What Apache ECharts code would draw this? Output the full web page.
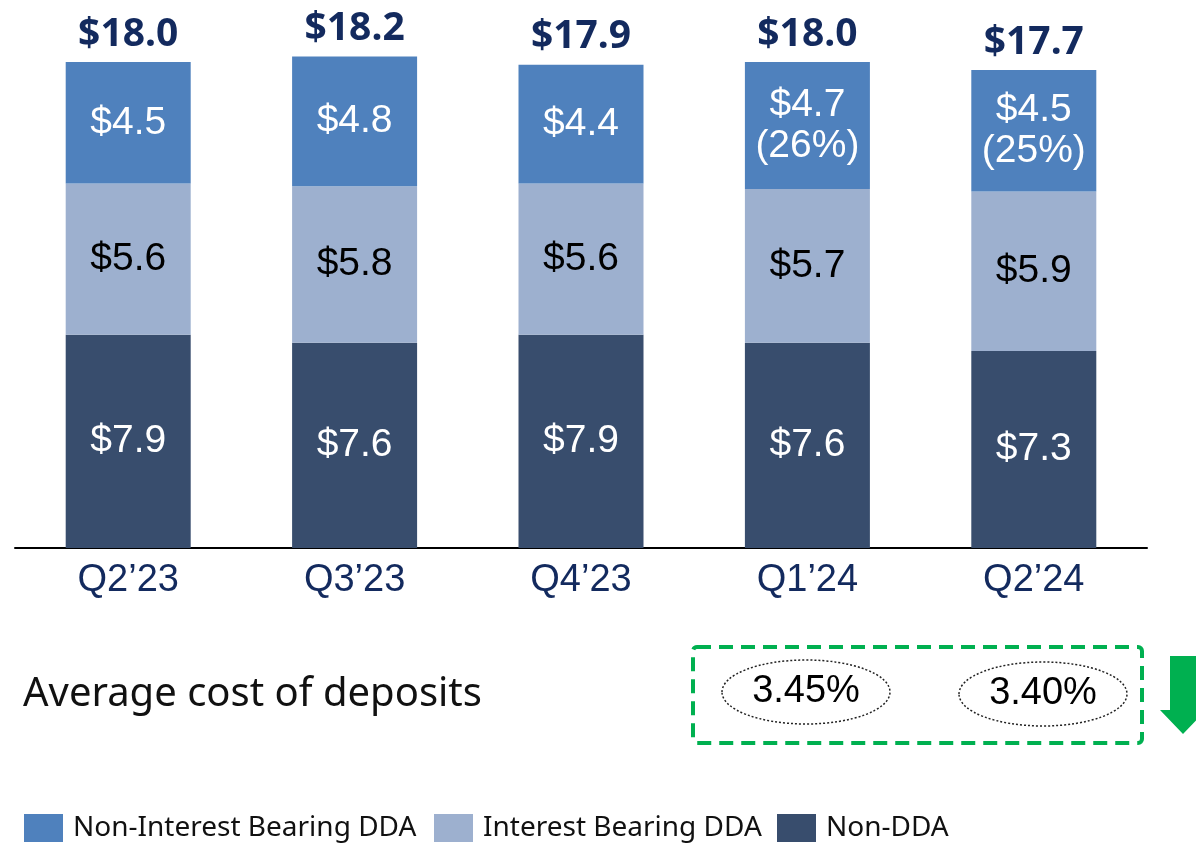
<!DOCTYPE html>
<html>
<head>
	<meta charset="utf-8">
	<title>Deposits</title>
	<script src="https://cdn.jsdelivr.net/npm/echarts@6/dist/echarts.min.js"></script>
	<style>
		body { margin: 0; background: #fff; }
	</style>
</head>
<body>
	<div id="main" style="width: 1196px; height: 844px"></div>
	<script type="text/javascript">
		var categories = ["Q2\u201923", "Q3\u201923", "Q4\u201923", "Q1\u201924", "Q2\u201924"];
		var nonDDA = [7.9, 7.6, 7.9, 7.6, 7.3];
		var interestDDA = [5.6, 5.8, 5.6, 5.7, 5.9];
		var nonInterestDDA = [4.5, 4.8, 4.4, 4.7, 4.5];
		var nonInterestShare = [null, null, null, 26, 25];
		var totals = [18.0, 18.2, 17.9, 18.0, 17.7];
		var costLabels = ["3.45%", "3.40%"];
		var legendNames = ['Non-Interest Bearing DDA', 'Interest Bearing DDA', 'Non-DDA'];

		var navy = '#132a5e';
		var colors = { 'Non-Interest Bearing DDA': '#4f81bd', 'Interest Bearing DDA': '#9db0cf', 'Non-DDA': '#384d6d' };
		var myChart = echarts.init(document.getElementById('main'));

		function money(v) { return '$' + v.toFixed(1); }

		// hand-placed legend (swatch + label)
		var legendX = [24, 434, 777];
		var legendGraphic = [];
		legendNames.forEach(function (n, i) {
			legendGraphic.push({ type: 'rect', shape: { x: legendX[i], y: 814, width: 39, height: 28 },
				style: { fill: colors[n] } });
			legendGraphic.push({ type: 'text', x: legendX[i] + 49, y: 828,
				style: { text: n, fontSize: 28, fill: '#111', verticalAlign: 'middle', fontFamily: 'Noto Sans, sans-serif' } });
		});

		var option = {
			animation: false,
			textStyle: { fontFamily: 'Liberation Sans, Arial, sans-serif' },
			grid: { left: 15, right: 49, top: 8, height: 540 },
			xAxis: {
				type: 'category',
				data: categories,
				axisLine: { lineStyle: { color: '#000', width: 2 } },
				axisTick: { show: false },
				axisLabel: { fontSize: 38, color: navy, margin: 14 }
			},
			yAxis: { type: 'value', min: 0, max: 20, show: false },
			series: [
				{
					name: 'Non-DDA', type: 'bar', stack: 'd', barWidth: 125,
					data: nonDDA,
					itemStyle: { color: colors['Non-DDA'] },
					label: { show: true, position: 'inside', fontSize: 39, color: '#fff',
						formatter: function (p) { return money(p.value); } }
				},
				{
					name: 'Interest Bearing DDA', type: 'bar', stack: 'd',
					data: interestDDA,
					itemStyle: { color: colors['Interest Bearing DDA'] },
					label: { show: true, position: 'inside', fontSize: 39, color: '#000',
						formatter: function (p) { return money(p.value); } }
				},
				{
					name: 'Non-Interest Bearing DDA', type: 'bar', stack: 'd',
					data: nonInterestDDA,
					itemStyle: { color: colors['Non-Interest Bearing DDA'] },
					label: { show: true, position: 'inside', fontSize: 39, color: '#fff', lineHeight: 41,
						formatter: function (p) {
							var s = money(p.value);
							var pct = nonInterestShare[p.dataIndex];
							return pct == null ? s : s + '\n(' + pct + '%)';
						} }
				},
				{
					name: 'Total', type: 'bar', stack: 'd',
					data: totals.map(function () { return 0; }),
					itemStyle: { color: 'transparent' },
					label: { show: true, position: 'top', distance: 8, fontSize: 39, fontWeight: 'bold',
						color: navy, fontFamily: 'Noto Sans, sans-serif',
						formatter: function (p) { return money(totals[p.dataIndex]); } }
				}
			],
			graphic: [
				{ type: 'text', x: 23, y: 695,
					style: { text: 'Average cost of deposits', fontSize: 40, fill: '#111', verticalAlign: 'middle', fontFamily: 'Noto Sans, sans-serif' } },
				{ type: 'rect', shape: { x: 693, y: 647, width: 449, height: 96, r: 4 },
					style: { fill: 'none', stroke: '#00b050', lineWidth: 4, lineDash: [14, 8] } },
				{ type: 'ellipse', shape: { cx: 806, cy: 692, rx: 84, ry: 32 },
					style: { fill: 'none', stroke: '#222', lineWidth: 1.5, lineDash: [2, 2] } },
				{ type: 'ellipse', shape: { cx: 1043, cy: 694, rx: 84, ry: 32 },
					style: { fill: 'none', stroke: '#222', lineWidth: 1.5, lineDash: [2, 2] } },
				{ type: 'text', x: 806, y: 692,
					style: { text: costLabels[0], fontSize: 38, fill: '#000', align: 'center', verticalAlign: 'middle', fontFamily: 'Liberation Sans, Arial, sans-serif' } },
				{ type: 'text', x: 1043, y: 694,
					style: { text: costLabels[1], fontSize: 38, fill: '#000', align: 'center', verticalAlign: 'middle', fontFamily: 'Liberation Sans, Arial, sans-serif' } },
				{ type: 'polygon',
					shape: { points: [[1170, 656], [1196, 656], [1196, 710], [1206, 710], [1183, 734], [1160, 710], [1170, 710]] },
					style: { fill: '#00b050' } }
			].concat(legendGraphic)
		};
		myChart.setOption(option);
	</script>
</body>
</html>
